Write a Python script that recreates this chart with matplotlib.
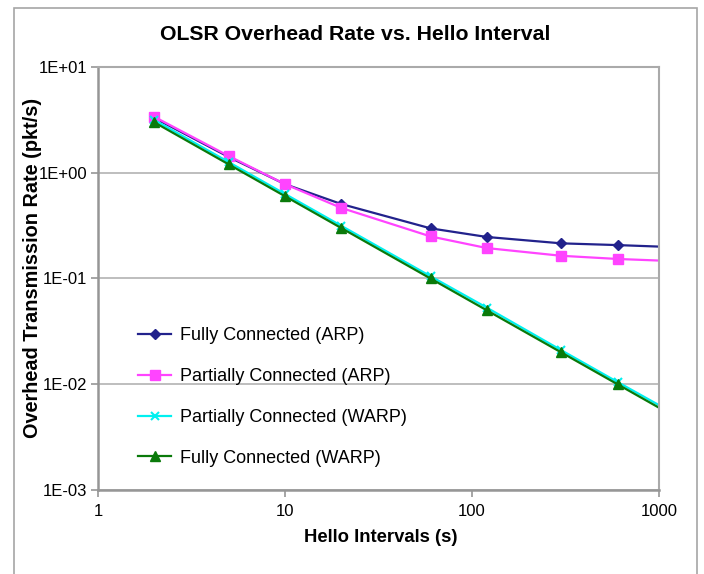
import matplotlib
matplotlib.use("Agg")
import matplotlib.pyplot as plt
from matplotlib.patches import Rectangle
from matplotlib.ticker import FixedLocator, NullLocator

# ---- data ----
hello_intervals = [2, 5, 10, 20, 60, 120, 300, 600, 1200]
fully_arp = [3.30, 1.41, 0.78, 0.506, 0.298, 0.247, 0.215, 0.207, 0.198]
partial_arp = [3.38, 1.44, 0.78, 0.465, 0.25, 0.194, 0.164, 0.153, 0.146]
partial_warp = [3.15, 1.26, 0.63, 0.315, 0.105, 0.053, 0.021, 0.0105, 0.0053]
fully_warp = [3.0, 1.2, 0.6, 0.30, 0.10, 0.05, 0.02, 0.01, 0.005]

series_labels = ["Fully Connected (ARP)", "Partially Connected (ARP)",
                 "Partially Connected (WARP)", "Fully Connected (WARP)"]
y_ticks = [1e-3, 1e-2, 1e-1, 1e0, 1e1]
y_tick_labels = ["1E-03", "1E-02", "1E-01", "1E+00", "1E+01"]
x_ticks = [1, 10, 100, 1000]
x_tick_labels = ["1", "10", "100", "1000"]

title = "OLSR Overhead Rate vs. Hello Interval"
xlabel = "Hello Intervals (s)"
ylabel = "Overhead Transmission Rate (pkt/s)"

plt.rcParams['font.family'] = ['Liberation Sans', 'DejaVu Sans']

W, H = 704, 574
fig = plt.figure(figsize=(W / 100, H / 100), dpi=100)
fig.patch.set_facecolor('white')

# outer chart frame
fig.patches.append(Rectangle((14 / W, -0.05), (697 - 14) / W, 1.05 - 8 / H,
                             transform=fig.transFigure, fill=False,
                             edgecolor='#a6a6a6', linewidth=1.2))

left, right, top, bottom = 98, 659, 67, 490
ax = fig.add_axes([left / W, 1 - bottom / H, (right - left) / W, (bottom - top) / H])
ax.set_xscale('log')
ax.set_yscale('log')
ax.set_xlim(1, 1000)
ax.set_ylim(1e-3, 1e1)

ax.yaxis.set_major_locator(FixedLocator(y_ticks))
ax.set_yticklabels(y_tick_labels)
ax.yaxis.set_minor_locator(NullLocator())
ax.xaxis.set_major_locator(FixedLocator(x_ticks))
ax.set_xticklabels(x_tick_labels)
ax.xaxis.set_minor_locator(NullLocator())

ax.grid(True, axis='y', color='#b3b3b3', linewidth=1.2)
ax.set_axisbelow(True)

for s in ['left', 'bottom']:
    ax.spines[s].set_color('#969696')
    ax.spines[s].set_linewidth(1.8)
for s in ['top', 'right']:
    ax.spines[s].set_color('#aaaaaa')
    ax.spines[s].set_linewidth(1.5)

ax.tick_params(axis='both', which='major', length=5, width=1.2, color='#969696',
               labelsize=12, labelcolor='black', pad=3)
ax.tick_params(axis='x', pad=5)

styles = [
    dict(color='#22228c', marker='D', markersize=5.5),
    dict(color='#ff44ff', marker='s', markersize=7),
    dict(color='#00f0f0', marker='x', markersize=6, markeredgewidth=1.5),
    dict(color='#0a7a0a', marker='^', markersize=7.5),
]
for yv, lab, st in zip([fully_arp, partial_arp, partial_warp, fully_warp], series_labels, styles):
    ax.plot(hello_intervals, yv, label=lab, linewidth=1.6, **st)

leg = ax.legend(loc='lower left', bbox_to_anchor=(0.072, 0.055), frameon=False,
                fontsize=13, handlelength=1.8, handletextpad=0.5, labelspacing=1.32,
                borderaxespad=0, borderpad=0)

fig.text(355 / W, 1 - 35 / H, title, ha='center', va='center',
         fontsize=15.3, fontweight='bold')
fig.text(381 / W, 1 - 537 / H, xlabel, ha='center', va='center',
         fontsize=13.3, fontweight='bold')
fig.text(33 / W, 1 - 268 / H, ylabel, ha='center', va='center', rotation=90,
         fontsize=14.3, fontweight='bold')

fig.savefig('out.png', dpi=100)
